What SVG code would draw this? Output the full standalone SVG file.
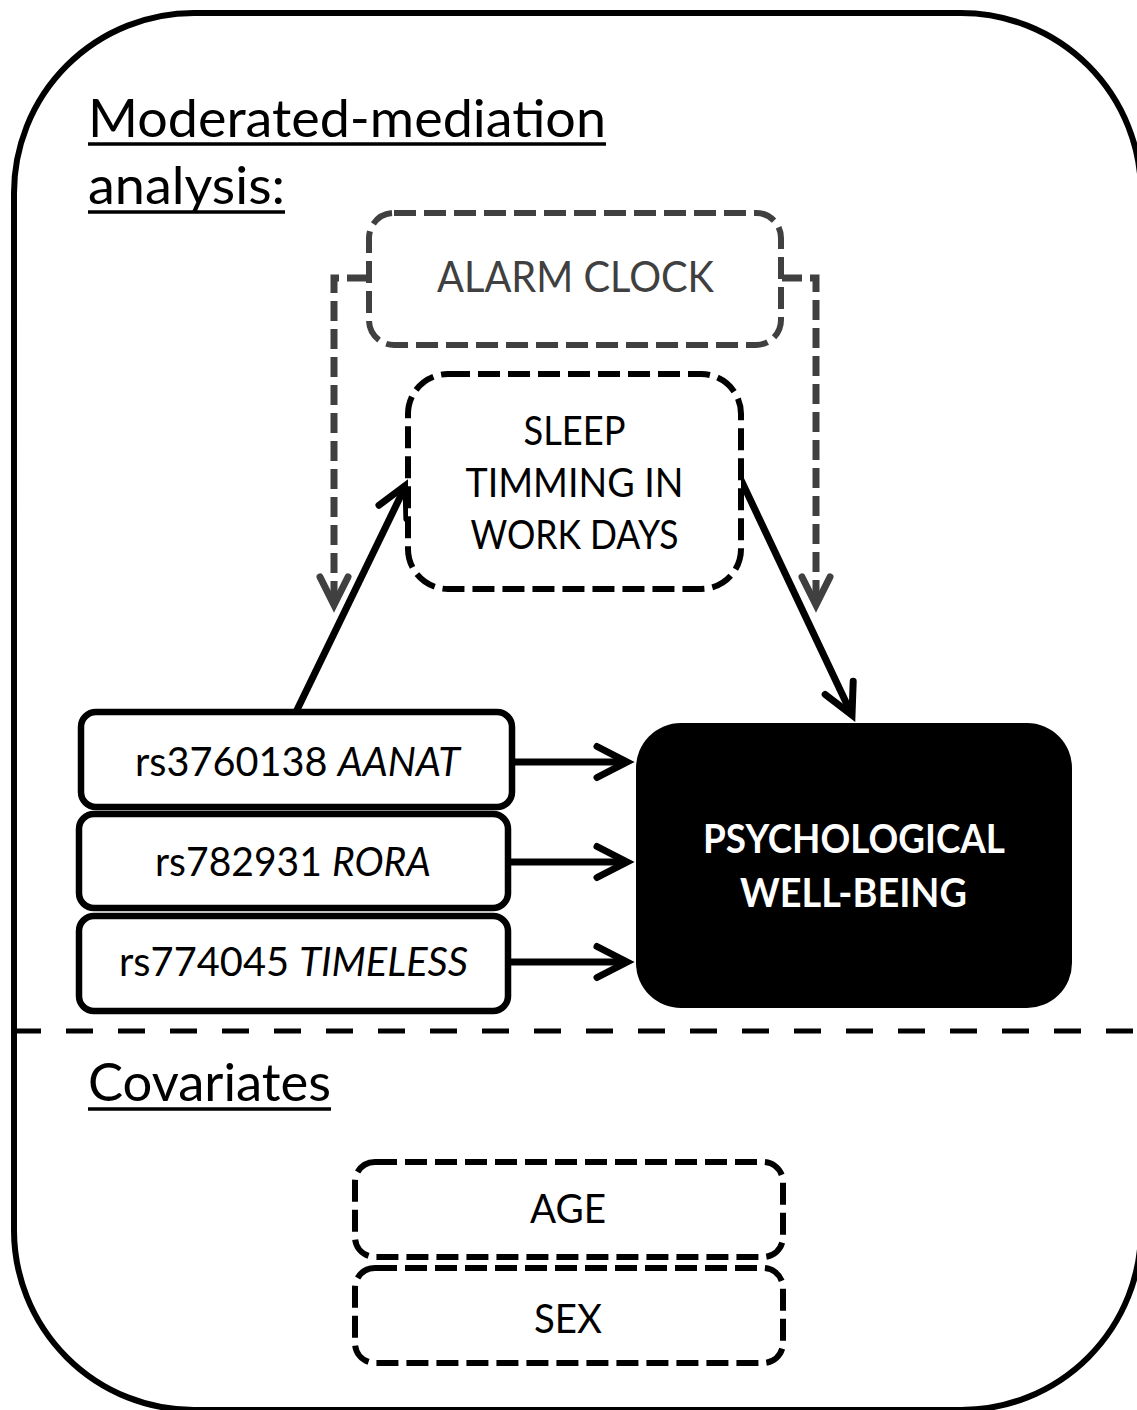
<svg xmlns="http://www.w3.org/2000/svg" width="1137" height="1410" viewBox="0 0 1137 1410">
  <style>
    text { font-family: Lato, "Open Sans", "Liberation Sans", sans-serif; }
    .title { font-size: 52px; fill: #000; }
    .label { font-size: 41px; fill: #000; text-anchor: middle; }
    .gray-label { font-size: 42px; fill: #404040; text-anchor: middle; }
    .bold-label { font-size: 40px; font-weight: bold; fill: #fff; text-anchor: middle; }
    .solid-box { fill: #fff; stroke: #000; stroke-width: 6.5; }
    .dash-box { fill: #fff; stroke: #000; stroke-width: 6; stroke-dasharray: 22 8; }
    .gray-dash-box { fill: #fff; stroke: #404040; stroke-width: 6; stroke-dasharray: 22 8; }
    .arrow { fill: none; stroke: #000; stroke-width: 7; }
    .gray-arrow { fill: none; stroke: #404040; stroke-width: 7; stroke-dasharray: 20 8; }
    .underline { stroke: #000; stroke-width: 3.5; }
  </style>
  <defs>
    <marker id="head-black" markerUnits="userSpaceOnUse" orient="auto" viewBox="-40 -25 50 50" markerWidth="50" markerHeight="50" refX="0" refY="0" overflow="visible">
      <path d="M -30 -15.5 L 0 0 L -30 15.5" fill="none" stroke="#000" stroke-width="7" stroke-linecap="round" stroke-linejoin="miter"/>
    </marker>
    <marker id="head-gray" markerUnits="userSpaceOnUse" orient="auto" viewBox="-40 -25 50 50" markerWidth="50" markerHeight="50" refX="0" refY="0" overflow="visible">
      <path d="M -28 -14 L 0 0 L -28 14" fill="none" stroke="#404040" stroke-width="7" stroke-linecap="round" stroke-linejoin="miter"/>
    </marker>
  </defs>

  <rect width="1137" height="1410" fill="#fff"/>

  <!-- outer frame -->
  <rect id="frame" x="14" y="13" width="1127" height="1397" rx="180" ry="180" fill="none" stroke="#000" stroke-width="6"/>

  <!-- section headings -->
  <g id="heading-model">
    <text class="title" x="88" y="137" textLength="518" lengthAdjust="spacingAndGlyphs">Moderated-mediation</text>
    <line class="underline" x1="88" y1="144" x2="606" y2="144"/>
    <text class="title" x="88" y="204" textLength="197" lengthAdjust="spacingAndGlyphs">analysis:</text>
    <line class="underline" x1="88" y1="212" x2="285" y2="212"/>
  </g>

  <!-- separator between model and covariates -->
  <line id="divider" x1="14" y1="1031" x2="1137" y2="1031" stroke="#000" stroke-width="5" stroke-dasharray="27 25"/>

  <g id="heading-covariates">
    <text class="title" x="88" y="1101" textLength="243" lengthAdjust="spacingAndGlyphs">Covariates</text>
    <line class="underline" x1="88" y1="1109" x2="331" y2="1109"/>
  </g>

  <!-- connectors -->
  <g id="connectors">
    <path class="gray-arrow" d="M 367 278 H 334 V 605" marker-end="url(#head-gray)"/>
    <path class="gray-arrow" d="M 782 278 H 816 V 605" marker-end="url(#head-gray)"/>
    <path class="arrow" d="M 296 712 L 406 485" marker-end="url(#head-black)"/>
    <path class="arrow" d="M 741 480 L 852 715" marker-end="url(#head-black)"/>
    <path class="arrow" d="M 512 762 H 627" marker-end="url(#head-black)"/>
    <path class="arrow" d="M 508 862 H 627" marker-end="url(#head-black)"/>
    <path class="arrow" d="M 508 962 H 627" marker-end="url(#head-black)"/>
  </g>

  <!-- moderator -->
  <g id="node-alarm-clock">
    <rect class="gray-dash-box" x="369" y="213" width="412" height="132" rx="25"/>
    <text class="gray-label" x="575.5" y="292" textLength="277" lengthAdjust="spacingAndGlyphs">ALARM CLOCK</text>
  </g>

  <!-- mediator -->
  <g id="node-sleep-timing">
    <rect class="dash-box" x="408" y="374" width="333" height="215" rx="40"/>
    <text class="label" x="574.5" y="445" textLength="102" lengthAdjust="spacingAndGlyphs">SLEEP</text>
    <text class="label" x="574.5" y="497" textLength="218" lengthAdjust="spacingAndGlyphs">TIMMING IN</text>
    <text class="label" x="574.5" y="549" textLength="208" lengthAdjust="spacingAndGlyphs">WORK DAYS</text>
  </g>

  <!-- predictors -->
  <g id="node-aanat">
    <rect class="solid-box" x="81" y="712" width="431" height="95" rx="15"/>
    <text class="label" x="297.5" y="776" textLength="325" lengthAdjust="spacingAndGlyphs">rs3760138 <tspan font-style="italic">AANAT</tspan></text>
  </g>
  <g id="node-rora">
    <rect class="solid-box" x="79" y="814" width="429" height="94" rx="15"/>
    <text class="label" x="293" y="876" textLength="276" lengthAdjust="spacingAndGlyphs">rs782931 <tspan font-style="italic">RORA</tspan></text>
  </g>
  <g id="node-timeless">
    <rect class="solid-box" x="79" y="916" width="429" height="95" rx="15"/>
    <text class="label" x="293.5" y="976" textLength="349" lengthAdjust="spacingAndGlyphs">rs774045 <tspan font-style="italic">TIMELESS</tspan></text>
  </g>

  <!-- outcome -->
  <g id="node-wellbeing">
    <rect x="636" y="723" width="436" height="285" rx="45" fill="#000"/>
    <text class="bold-label" x="854" y="853" textLength="302" lengthAdjust="spacingAndGlyphs">PSYCHOLOGICAL</text>
    <text class="bold-label" x="853.5" y="907" textLength="227" lengthAdjust="spacingAndGlyphs">WELL-BEING</text>
  </g>

  <!-- covariates -->
  <g id="node-age">
    <rect class="dash-box" x="355" y="1162" width="428" height="95" rx="20"/>
    <text class="label" x="568" y="1223" textLength="76" lengthAdjust="spacingAndGlyphs">AGE</text>
  </g>
  <g id="node-sex">
    <rect class="dash-box" x="355" y="1268" width="428" height="95" rx="20"/>
    <text class="label" x="568" y="1333" textLength="68" lengthAdjust="spacingAndGlyphs">SEX</text>
  </g>
</svg>
